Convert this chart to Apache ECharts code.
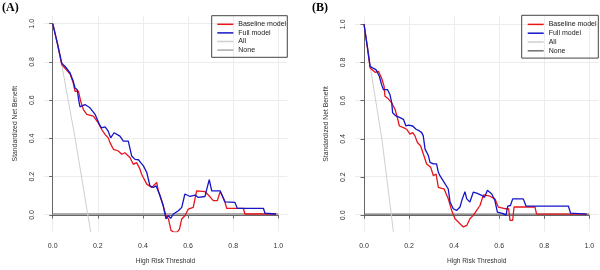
<!DOCTYPE html>
<html>
<head>
<meta charset="utf-8">
<script src="https://cdn.jsdelivr.net/npm/echarts@6.0.0/dist/echarts.min.js"></script>
<style>
html, body {margin: 0; padding: 0; background: #fff;}
#chart {width: 600px; height: 270px;}
</style>
</head>
<body>
<div id="chart"></div>
<script>
var ticks = [0, 0.2, 0.4, 0.6, 0.8, 1.0];
var legendNames = ['Baseline model', 'Full model', 'All', 'None'];
var panelTitles = ['(A)', '(B)'];
var xName = 'High Risk Threshold';
var yName = 'Standardized Net Benefit';

//panel A
var baseA = [[0, 1], [0.02, 0.9], [0.04, 0.785], [0.077, 0.735], [0.091, 0.688], [0.099, 0.645], [0.114, 0.645], [0.124, 0.592],
    [0.136, 0.549], [0.151, 0.523], [0.18, 0.514], [0.202, 0.479], [0.217, 0.444], [0.232, 0.418], [0.246, 0.4], [0.254, 0.375],
    [0.269, 0.34], [0.291, 0.331], [0.306, 0.314], [0.32, 0.322], [0.343, 0.296], [0.357, 0.261], [0.372, 0.27], [0.387, 0.235],
    [0.394, 0.209], [0.417, 0.157], [0.439, 0.139], [0.461, 0.166], [0.468, 0.122], [0.49, 0.043], [0.502, -0.009], [0.513, -0.026],
    [0.524, -0.085], [0.535, -0.095], [0.552, -0.095], [0.562, -0.08], [0.572, -0.026], [0.586, -0.009], [0.601, 0.026], [0.623, 0.035],
    [0.638, 0.122], [0.675, 0.117], [0.69, 0.1], [0.712, 0.07], [0.73, 0.07], [0.742, 0.117], [0.75, 0.1], [0.764, 0.061],
    [0.771, 0.03], [0.845, 0.03], [0.852, 0], [0.99, 0]];
var fullA = [[0, 1], [0.02, 0.9], [0.04, 0.793], [0.055, 0.775], [0.077, 0.741], [0.091, 0.697], [0.099, 0.662], [0.109, 0.653],
    [0.115, 0.6], [0.121, 0.563], [0.143, 0.575], [0.165, 0.558], [0.188, 0.523], [0.207, 0.47], [0.217, 0.453], [0.232, 0.458],
    [0.246, 0.435], [0.257, 0.4], [0.272, 0.427], [0.298, 0.409], [0.313, 0.383], [0.335, 0.383], [0.35, 0.305], [0.365, 0.287],
    [0.38, 0.285], [0.39, 0.27], [0.402, 0.253], [0.417, 0.218], [0.431, 0.148], [0.446, 0.139], [0.458, 0.148], [0.476, 0.096],
    [0.49, 0.043], [0.502, -0.026], [0.513, -0.009], [0.523, -0.023], [0.535, 0], [0.557, 0.017], [0.572, 0.035], [0.586, 0.105],
    [0.609, 0.092], [0.631, 0.099], [0.646, 0.087], [0.675, 0.092], [0.683, 0.131], [0.694, 0.18], [0.705, 0.122], [0.742, 0.122],
    [0.764, 0.064], [0.808, 0.061], [0.818, 0.03], [0.934, 0.03], [0.941, 0.004], [0.99, 0]];
var allA = [[0, 1], [0.04, 0.785], [0.099, 0.4], [0.168, -0.092], [0.175, -0.14]];
var noneA = [[0, 0], [1, 0]];

//panel B
var baseB = [[0, 1], [0.015, 0.88], [0.027, 0.77], [0.049, 0.747], [0.064, 0.752], [0.078, 0.717], [0.089, 0.674], [0.093, 0.621],
    [0.108, 0.607], [0.123, 0.586], [0.138, 0.551], [0.148, 0.508], [0.157, 0.464], [0.175, 0.455], [0.189, 0.447], [0.204, 0.421],
    [0.216, 0.429], [0.226, 0.412], [0.237, 0.377], [0.251, 0.36], [0.266, 0.307], [0.278, 0.264], [0.296, 0.246], [0.308, 0.202],
    [0.32, 0.211], [0.33, 0.141], [0.345, 0.135], [0.355, 0.133], [0.362, 0.141], [0.374, 0.08], [0.389, 0.019], [0.404, -0.025],
    [0.426, -0.051], [0.441, -0.068], [0.456, -0.06], [0.47, -0.025], [0.485, -0.007], [0.5, 0.019], [0.515, 0.045], [0.53, 0.101],
    [0.559, 0.094], [0.581, 0.08], [0.596, 0.037], [0.626, 0.028], [0.642, 0.028], [0.648, -0.033], [0.66, -0.033], [0.666, 0.037],
    [0.759, 0.037], [0.766, 0], [0.988, 0]];
var fullB = [[0, 1], [0.015, 0.88], [0.027, 0.778], [0.038, 0.77], [0.053, 0.761], [0.068, 0.726], [0.078, 0.682], [0.086, 0.656],
    [0.104, 0.656], [0.115, 0.63], [0.123, 0.586], [0.127, 0.534], [0.142, 0.517], [0.16, 0.508], [0.175, 0.499], [0.186, 0.464],
    [0.197, 0.468], [0.216, 0.464], [0.231, 0.447], [0.246, 0.438], [0.256, 0.429], [0.263, 0.412], [0.271, 0.342], [0.286, 0.307],
    [0.293, 0.272], [0.308, 0.264], [0.322, 0.264], [0.33, 0.22], [0.337, 0.202], [0.345, 0.194], [0.36, 0.159], [0.374, 0.132],
    [0.382, 0.063], [0.396, 0.028], [0.411, 0.019], [0.426, 0.037], [0.434, 0.071], [0.441, 0.071], [0.448, 0.118], [0.456, 0.08],
    [0.47, 0.063], [0.485, 0.115], [0.5, 0.11], [0.52, 0.1], [0.535, 0.088], [0.548, 0.125], [0.555, 0.133], [0.567, 0.106],
    [0.581, 0.071], [0.592, 0.01], [0.618, 0.002], [0.63, -0.007], [0.638, 0.042], [0.65, 0.045], [0.66, 0.08], [0.707, 0.08],
    [0.719, 0.042], [0.907, 0.042], [0.917, 0.005], [0.988, 0]];
var allB = [[0, 1], [0.03, 0.76], [0.08, 0.39], [0.13, -0.09], [0.135, -0.14]];
var noneB = [[0, 0], [1, 0]];

var font = '"Liberation Sans", Arial, sans-serif';
var red = '#e8141c';
var blue = '#1515c8';
var light = '#cfcfcf';

//plot region = R plot area, axis region = 0..1 box the axes are drawn on
var panels = [{
    title: {x: 2, y: 2},
    plot: {left: 43.7, top: 15.7, width: 243.6, height: 217},
    axis: {left: 52.7, top: 23.7, width: 225.6, height: 191.3},
    box: {x: 211.7, y: 15.7, width: 75.6, height: 41.6},
    legend: {left: 217.3, top: 20, gap: 0, lh: 8.6},
    none: {color: '#aaaaaa', width: 2},
    data: [baseA, fullA, allA, noneA]
}, {
    title: {x: 312, y: 2},
    plot: {left: 355, top: 16.3, width: 243.3, height: 216.6},
    axis: {left: 364, top: 24.3, width: 225.3, height: 191},
    box: {x: 521.7, y: 15.3, width: 76.6, height: 42.8},
    legend: {left: 527.7, top: 20, gap: 0, lh: 8.8},
    none: {color: '#707070', width: 1.2},
    data: [baseB, fullB, allB, noneB]
}];

var option = {
    animation: false,
    backgroundColor: '#fff',
    grid: [], xAxis: [], yAxis: [], series: [], legend: [], graphic: []
};

panels.forEach(function (p, i) {
    var g = i * 2;
    option.grid.push({left: p.plot.left, top: p.plot.top, width: p.plot.width, height: p.plot.height});
    option.grid.push({left: p.axis.left, top: p.axis.top, width: p.axis.width, height: p.axis.height});
    var xOff = p.plot.top + p.plot.height - (p.axis.top + p.axis.height);
    var yOff = p.axis.left - p.plot.left;

    //data axes: grid lines + titles
    option.xAxis.push({
        type: 'value', gridIndex: g, min: -0.04, max: 1.04,
        axisLine: {show: false}, axisTick: {show: false, customValues: ticks}, axisLabel: {show: false},
        splitLine: {show: true, lineStyle: {color: '#ececec', width: 1}},
        name: xName, nameLocation: 'middle', nameGap: 26.5,
        nameTextStyle: {fontSize: 6.6, color: '#333', fontFamily: font}
    });
    option.yAxis.push({
        type: 'value', gridIndex: g, min: -0.092, max: 1.042,
        axisLine: {show: false}, axisTick: {show: false, customValues: ticks}, axisLabel: {show: false},
        splitLine: {show: true, lineStyle: {color: '#ececec', width: 1}},
        name: yName, nameLocation: 'middle', nameGap: 25,
        nameTextStyle: {fontSize: 6.8, color: '#333', fontFamily: font}
    });
    //R style axes, only from 0 to 1
    option.xAxis.push({
        type: 'value', gridIndex: g + 1, min: 0, max: 1, interval: 0.2, offset: xOff,
        axisLine: {lineStyle: {color: '#666', width: 1}},
        axisTick: {length: 3.5, lineStyle: {color: '#666'}},
        axisLabel: {fontSize: 7, color: '#333', fontFamily: font, margin: 10, formatter: function (v) { return v.toFixed(1); }},
        splitLine: {show: false}
    });
    option.yAxis.push({
        type: 'value', gridIndex: g + 1, min: 0, max: 1, interval: 0.2, offset: yOff,
        axisLine: {show: true, lineStyle: {color: '#666', width: 1}},
        axisTick: {show: true, length: 3.5, lineStyle: {color: '#666'}},
        axisLabel: {fontSize: 7, color: '#333', fontFamily: font, margin: 8, rotate: 90, formatter: function (v) { return v.toFixed(1); }},
        splitLine: {show: false}
    });

    var styles = [
        {color: red, width: 1.3, z: 4},
        {color: blue, width: 1.3, z: 5},
        {color: light, width: 1, z: 3},
        {color: p.none.color, width: p.none.width, z: 2}
    ];
    legendNames.forEach(function (name, k) {
        option.series.push({
            name: name, type: 'line', xAxisIndex: g, yAxisIndex: g,
            data: p.data[k], showSymbol: false, symbol: 'none', clip: true,
            color: styles[k].color, z: styles[k].z,
            lineStyle: {color: styles[k].color, width: styles[k].width}
        });
    });

    option.legend.push({
        orient: 'vertical', left: p.legend.left, top: p.legend.top, padding: 0,
        itemWidth: 16, itemHeight: 1.5, itemGap: p.legend.gap, itemTextGap: 3.4,
        icon: 'rect', selectedMode: false,
        textStyle: {fontSize: 7, color: '#222', fontFamily: font, lineHeight: p.legend.lh},
        data: legendNames.map(function (name, k) {
            return {name: name, itemStyle: {color: styles[k].color}};
        })
    });

    option.graphic.push({
        type: 'text', left: p.title.x, top: p.title.y, silent: true,
        style: {text: panelTitles[i], font: 'bold 12px "Liberation Serif", "Times New Roman", serif', fill: '#000'}
    });
    option.graphic.push({
        type: 'rect', silent: true, z: 10,
        shape: {x: p.box.x, y: p.box.y, width: p.box.width, height: p.box.height},
        style: {fill: 'none', stroke: '#444', lineWidth: 1}
    });
});

var myChart = echarts.init(document.getElementById('chart'), null, {renderer: 'canvas'});
myChart.setOption(option);
</script>
</body>
</html>
